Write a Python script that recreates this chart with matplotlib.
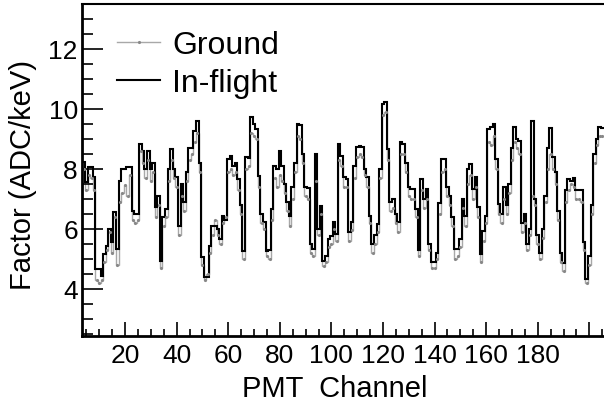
import numpy as np
import matplotlib.pyplot as plt
from matplotlib.lines import Line2D

plt.rcParams['font.family'] = ['Liberation Sans', 'DejaVu Sans']

# PMT channels 3..205 (bins centred on integer channel numbers)
channels = np.arange(3, 206)

inflight = [
    8.22, 8.22, 7.56, 8.06, 8.06, 7.72, 4.67, 4.67, 4.44, 5.17,   # 3-12
    5.44, 6.00, 5.56, 6.56, 5.33, 7.61, 8.00, 8.00, 8.06, 8.06,   # 13-22
    6.61, 6.50, 6.50, 8.83, 8.61, 8.00, 8.60, 8.00, 8.20, 6.72,   # 23-32
    7.11, 4.94, 6.39, 6.67, 8.00, 8.67, 8.00, 7.72, 6.11, 7.50,   # 33-42
    6.89, 7.89, 8.70, 8.70, 9.28, 9.61, 8.20, 5.06, 4.39, 4.39,   # 43-52
    5.44, 6.11, 6.11, 6.00, 5.67, 6.44, 6.30, 8.33, 8.44, 8.11,   # 53-62
    8.20, 7.67, 6.80, 5.25, 8.39, 8.35, 9.72, 9.50, 9.33, 7.75,   # 63-72
    6.50, 6.22, 5.28, 5.30, 6.67, 8.10, 8.00, 8.60, 8.10, 7.50,   # 73-82
    6.89, 6.44, 7.39, 8.20, 9.50, 9.45, 8.50, 7.39, 7.35, 5.50,   # 83-92
    5.33, 8.50, 6.00, 6.78, 4.94, 5.11, 5.67, 5.75, 6.22, 5.83,   # 93-102
    8.83, 8.44, 7.72, 7.67, 5.89, 6.22, 8.11, 8.72, 8.78, 8.72,   # 103-112
    8.00, 7.72, 6.44, 5.50, 5.80, 6.15, 8.00, 10.15, 10.22, 8.65, # 113-122
    6.90, 7.00, 6.50, 6.22, 8.89, 8.83, 8.20, 7.39, 7.33, 7.33,   # 123-132
    6.67, 5.30, 7.67, 7.00, 7.33, 5.50, 4.89, 4.89, 5.20, 6.85,   # 133-142
    8.33, 8.33, 7.39, 7.10, 6.39, 5.33, 5.33, 5.67, 7.00, 6.44,   # 143-152
    8.00, 8.17, 7.33, 7.72, 6.72, 5.17, 5.94, 6.44, 9.33, 9.39,   # 153-162
    9.50, 8.33, 6.83, 6.50, 7.39, 6.80, 7.50, 8.70, 9.39, 9.00,   # 163-172
    8.94, 6.20, 6.50, 5.50, 6.00, 9.60, 7.00, 5.80, 5.20, 6.00,   # 173-182
    7.10, 8.70, 9.35, 8.40, 7.90, 6.60, 5.20, 4.85, 7.30, 7.65,   # 183-192
    7.60, 7.70, 7.30, 7.30, 7.30, 5.55, 4.33, 5.10, 6.80, 8.50,   # 193-202
    9.00, 9.40, 9.35,                                             # 203-205
]

ground = [
    8.00, 8.00, 7.30, 7.80, 7.70, 7.30, 4.30, 4.20, 4.30, 4.90,
    5.30, 5.90, 5.20, 6.40, 4.80, 6.90, 7.20, 7.45, 7.10, 7.80,
    6.30, 6.20, 6.30, 8.60, 8.20, 7.70, 8.30, 7.60, 7.90, 6.40,
    6.80, 4.70, 6.10, 6.40, 7.60, 8.30, 7.70, 7.40, 5.80, 7.10,
    6.60, 7.60, 8.30, 8.50, 8.90, 9.20, 7.90, 4.80, 4.30, 4.50,
    5.20, 5.80, 6.30, 5.80, 5.50, 6.20, 6.40, 7.90, 8.00, 7.80,
    7.90, 7.30, 6.50, 5.00, 8.00, 8.10, 9.20, 9.10, 9.00, 7.40,
    6.20, 6.00, 5.10, 5.00, 6.30, 7.70, 7.40, 7.80, 7.60, 7.20,
    6.60, 6.10, 7.00, 7.90, 9.10, 9.00, 8.20, 7.10, 7.00, 5.20,
    5.10, 7.60, 5.80, 6.50, 4.75, 4.90, 5.40, 5.50, 6.00, 5.60,
    8.30, 8.10, 7.40, 7.40, 5.60, 5.95, 7.70, 8.40, 8.50, 8.40,
    7.80, 7.40, 6.20, 5.20, 5.50, 5.90, 7.70, 9.80, 9.90, 8.30,
    6.60, 6.70, 6.20, 5.90, 8.50, 8.50, 7.90, 7.10, 7.00, 7.00,
    6.40, 5.10, 7.30, 6.70, 7.00, 5.30, 4.70, 4.70, 5.00, 6.50,
    7.90, 8.00, 7.10, 6.80, 6.10, 5.00, 5.10, 5.40, 6.70, 6.10,
    7.50, 7.80, 7.00, 7.40, 6.40, 4.90, 5.60, 6.20, 8.90, 8.80,
    9.10, 8.00, 6.50, 6.20, 7.00, 6.50, 7.20, 8.30, 8.90, 8.70,
    8.50, 5.90, 6.20, 5.30, 5.80, 7.10, 6.80, 5.50, 5.00, 5.70,
    6.90, 8.00, 8.50, 8.00, 7.50, 6.30, 4.90, 4.60, 6.90, 7.30,
    7.50, 7.40, 7.00, 7.00, 6.90, 5.30, 4.20, 4.80, 6.50, 8.20,
    8.80, 9.10, 9.10,
]

edges = np.append(channels - 0.5, channels[-1] + 0.5)

fig = plt.figure(figsize=(6.04, 4.06), dpi=100)
ax = fig.add_axes([82 / 604, 69 / 406, 528 / 604, 332 / 406])

gray = '#a8a8a8'
ax.stairs(ground, edges, color=gray, lw=1.0, baseline=None)
ax.plot(channels, ground, ls='none', marker='.', ms=2.5, color='#888888')
ax.stairs(inflight, edges, color='black', lw=1.5, baseline=None)

ax.set_xlim(3.3, 208)
ax.set_ylim(2.43, 13.5)

ax.set_xticks(np.arange(20, 201, 20))
ax.set_xticklabels([str(v) for v in range(20, 181, 20)] + [''])
ax.set_xticks(np.arange(5, 206, 5), minor=True)
ax.set_yticks([4, 6, 8, 10, 12])
ax.set_yticks(np.arange(2.5, 13.6, 0.5), minor=True)

ax.tick_params(axis='both', which='both', direction='in', labelsize=19,
               top=False, right=False, width=1.2)
ax.tick_params(axis='x', which='major', length=10, pad=5)
ax.tick_params(axis='x', which='minor', length=5)
ax.tick_params(axis='y', which='major', length=15, pad=3)
ax.tick_params(axis='y', which='minor', length=8)

for s in ['left', 'bottom']:
    ax.spines[s].set_linewidth(2)
ax.spines['top'].set_linewidth(1.5)
ax.spines['right'].set_visible(False)

ax.set_xlabel('PMT  Channel', fontsize=21)
ax.set_ylabel('Factor (ADC/keV)', fontsize=21)
ax.xaxis.set_label_coords(0.478, -0.115)
ax.yaxis.set_label_coords(-0.085, 0.488)

handles = [
    Line2D([], [], color=gray, lw=1.0, marker='.', ms=2.5, markevery=[1],
           markerfacecolor='#888888', markeredgecolor='#888888'),
    Line2D([], [], color='black', lw=1.5),
]
ax.legend(handles, ['Ground', 'In-flight'], loc='upper left',
          bbox_to_anchor=(117 / 604, 375 / 406), bbox_transform=fig.transFigure,
          frameon=False, fontsize=23, handlelength=1.35, handletextpad=0.37,
          labelspacing=0.25, borderpad=0, borderaxespad=0)

fig.savefig('out.png', dpi=100)
